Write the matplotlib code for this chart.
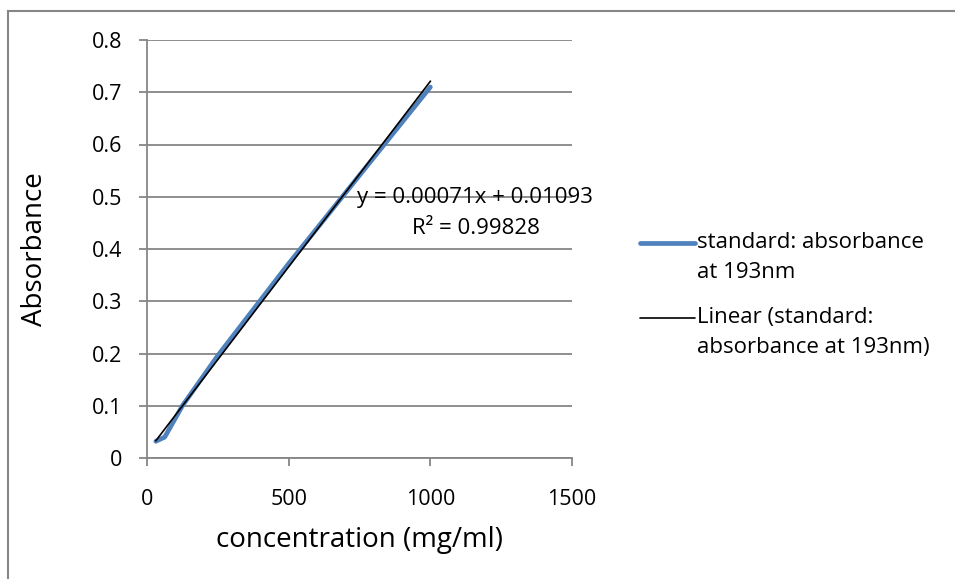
import matplotlib
matplotlib.use("Agg")
import matplotlib.pyplot as plt
from matplotlib.lines import Line2D
import numpy as np

plt.rcParams['font.family'] = ['Open Sans', 'DejaVu Sans']

concentration = [31.25, 62.5, 125, 250, 500, 1000]
absorbance = [0.032, 0.040, 0.100, 0.196, 0.372, 0.710]
slope = 0.00071
intercept = 0.01093
eq_text = "y = 0.00071x + 0.01093"
r2_text = "R² = 0.99828"
xticks = [0, 500, 1000, 1500]
yticks = [0, 0.1, 0.2, 0.3, 0.4, 0.5, 0.6, 0.7, 0.8]
series_label = ["standard: absorbance", "at 193nm"]
trend_label = ["Linear (standard:", "absorbance at 193nm)"]

W, H = 955, 579
fig = plt.figure(figsize=(W/100, H/100), dpi=100)
ax = fig.add_axes([147/W, 1-458/H, (572-147)/W, (458-40)/H])

grid_c = '#868686'
blue = '#4F81BD'
ax.plot(concentration, absorbance, color=blue, lw=3.4, solid_capstyle='round', zorder=3)
xt = np.array([concentration[0], concentration[-1]])
ax.plot(xt, slope*xt + intercept, color='black', lw=1.2, zorder=4)

ax.set_xlim(0, 1500)
ax.set_ylim(0, 0.8)
ax.set_xticks(xticks)
ax.set_xticklabels([str(v) for v in xticks])
ax.set_yticks(yticks)
ax.set_yticklabels(['0' if v == 0 else f'{v:g}' for v in yticks])
ax.yaxis.grid(True, color=grid_c, lw=1.3)
ax.set_axisbelow(True)
for s in ['top', 'right']:
    ax.spines[s].set_visible(False)
for s in ['left', 'bottom']:
    ax.spines[s].set_color(grid_c)
    ax.spines[s].set_linewidth(1.3)
ax.tick_params(axis='both', direction='out', length=6, width=1.3, color=grid_c,
               labelsize=15.5)
ax.tick_params(axis='y', pad=12)
ax.tick_params(axis='x', pad=16)
ax.set_xlabel('concentration (mg/ml)', fontsize=20)
ax.set_ylabel('Absorbance', fontsize=20)
ax.xaxis.set_label_coords(0.5, (458-540)/418)
ax.yaxis.set_label_coords((35-147)/425, 0.5)
ax.xaxis.label.set_va('center')
ax.yaxis.label.set_va('center')

fig.text(475/W, 1-197/H, eq_text, fontsize=16, ha='center', va='center')
fig.text(476/W, 1-228/H, r2_text, fontsize=16, ha='center', va='center')

# legend
def entry(y0, color, lw, lines):
    fig.add_artist(Line2D([640/W, 695/W], [1-y0/H, 1-y0/H], color=color, lw=lw,
                          solid_capstyle='round'))
    for i, t in enumerate(lines):
        fig.text(697/W, 1-(y0+30*i)/H, t, fontsize=16, ha='left', va='center')

entry(243, blue, 3.4, series_label)
entry(318, 'black', 1.2, trend_label)

# border
fig.add_artist(Line2D([8/W, 8/W], [0, 1-11/H], color=grid_c, lw=1.5))
fig.add_artist(Line2D([8/W, 1], [1-11/H, 1-11/H], color=grid_c, lw=1.5))

fig.savefig('out.png', dpi=100, facecolor='white')
